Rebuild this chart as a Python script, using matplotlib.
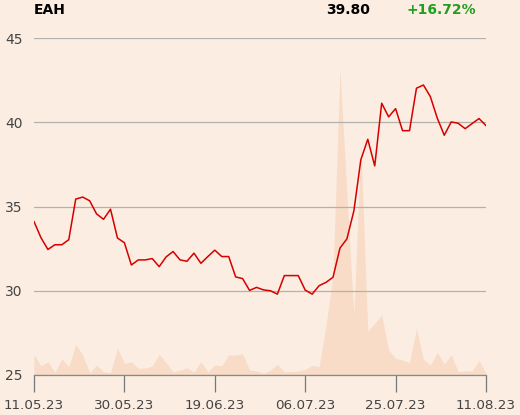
import matplotlib
matplotlib.use("Agg")
import matplotlib.pyplot as plt

# daily close prices (EAH), 66 trading days
prices = [34.10, 33.15, 32.45, 32.73, 32.73, 33.03, 35.44, 35.56, 35.34, 34.56,
          34.24, 34.84, 33.13, 32.85, 31.53, 31.83, 31.83, 31.91, 31.43, 32.01,
          32.33, 31.83, 31.75, 32.23, 31.63, 32.03, 32.41, 32.03, 32.03, 30.82,
          30.72, 30.02, 30.20, 30.05, 30.00, 29.80, 30.90, 30.90, 30.90, 30.04,
          29.80, 30.30, 30.50, 30.80, 32.53, 33.08, 34.74, 37.77, 38.99, 37.41,
          41.13, 40.32, 40.81, 39.50, 39.50, 42.02, 42.21, 41.52, 40.24, 39.23,
          40.02, 39.94, 39.62, 39.92, 40.22, 39.80]

# daily volume (thousand shares)
volume = [20.7, 9.0, 13.3, 2.7, 16.0, 8.3, 30.7, 20.0, 2.3, 10.0,
          3.3, 2.3, 27.3, 11.7, 13.3, 6.7, 7.0, 9.0, 20.7, 12.3,
          3.3, 4.7, 7.3, 3.0, 13.3, 3.3, 10.0, 9.3, 20.3, 20.0,
          21.3, 5.0, 4.0, 1.7, 5.0, 10.7, 3.3, 3.3, 4.0, 5.7,
          9.7, 8.3, 50.0, 100.0, 307.0, 180.0, 60.0, 230.0, 44.0, 52.0,
          60.0, 25.0, 16.7, 15.0, 12.3, 46.7, 15.7, 10.0, 22.7, 11.0,
          20.3, 3.3, 4.0, 4.0, 14.3, 1.7]

tick_pos = [0, 13, 26, 39, 52, 65]
tick_labels = ["11.05.23", "30.05.23", "19.06.23", "06.07.23", "25.07.23", "11.08.23"]

ticker = "EAH"
last_price = "39.80"
change = "+16.72%"

bg = "#fbede1"
x = list(range(len(prices)))

fig = plt.figure(figsize=(5.2, 4.15), dpi=100, facecolor=bg)
ax = fig.add_axes([0.0654, 0.0964, 0.8692, 0.812])
ax2 = ax.twinx()

# volume in the background
ax2.fill_between(x, 0, volume, color="#f8dcc7", linewidth=0)
ax2.set_ylim(0, 338)
ax2.set_yticks([])
ax2.set_facecolor(bg)
for s in ax2.spines.values():
    s.set_visible(False)

ax.set_zorder(ax2.get_zorder() + 1)
ax.patch.set_visible(False)

ax.plot(x, prices, color="#d50000", linewidth=1.1)
ax.set_xlim(0, len(prices) - 1)
ax.set_ylim(25, 45)
ax.set_yticks([25, 30, 35, 40, 45])
ax.grid(axis="y", color="#b4b0ab", linewidth=0.9)
ax.set_xticks(tick_pos)
ax.set_xticklabels(tick_labels)
ax.tick_params(axis="y", length=0, pad=8, labelsize=10, labelcolor="#444444")
ax.tick_params(axis="x", length=12, width=0.9, color="#777777", pad=5,
               labelsize=9.7, labelcolor="#444444")
for side in ["left", "right", "top"]:
    ax.spines[side].set_visible(False)
ax.spines["bottom"].set_color("#888888")
ax.spines["bottom"].set_linewidth(0.9)

fig.text(34 / 520, 1 - 10 / 415, ticker, fontsize=10, fontweight="bold",
         color="black", va="center", ha="left")
fig.text(370 / 520, 1 - 10 / 415, last_price, fontsize=10, fontweight="bold",
         color="black", va="center", ha="right")
fig.text(406 / 520, 1 - 10 / 415, change, fontsize=10, fontweight="bold",
         color="#1f9e1f", va="center", ha="left")

fig.savefig("out.png", dpi=100, facecolor=bg)
